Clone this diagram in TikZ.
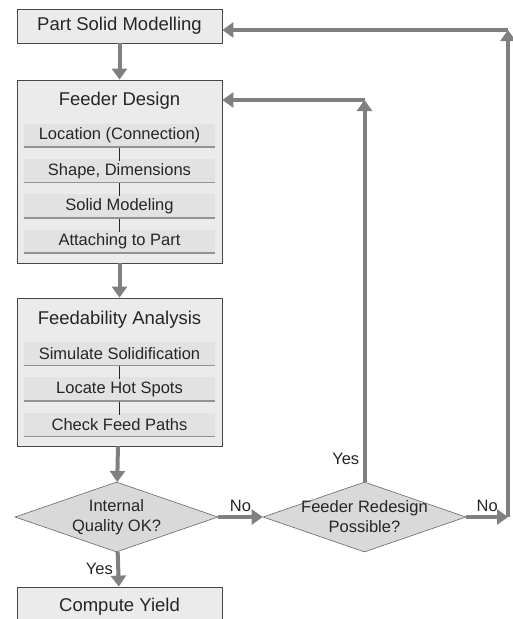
\documentclass[tikz,border=0pt]{standalone}
\usepackage{fontspec}
\setmainfont{Liberation Sans}
\usetikzlibrary{arrows.meta,positioning,shapes.geometric}
\definecolor{boxfill}{HTML}{EBEBEB}
\definecolor{subfill}{HTML}{E2E2E2}
\definecolor{askfill}{HTML}{D9D9D9}
\definecolor{flow}{HTML}{808080}
\definecolor{ink}{HTML}{262626}

\begin{document}
\begin{tikzpicture}[x=1pt,y=-1pt,node distance=11pt,
    big/.style={draw=ink!85,fill=boxfill,line width=0.8pt,minimum width=205pt,
      inner sep=0pt,font=\fontsize{18.5}{22}\selectfont,text=ink},
    title/.style={font=\fontsize{18.5}{22}\selectfont,text=ink},
    sub/.style={fill=subfill,minimum width=191pt,minimum height=24pt,inner sep=0pt,
      font=\fontsize{16.5}{19}\selectfont,text=ink},
    subshade/.style={draw=flow!85,line width=1.5pt},
    ask/.style={diamond,draw=ink!70,fill=askfill,line width=0.6pt,
      minimum width=203pt,minimum height=70pt,inner sep=0pt},
    asktext/.style={font=\fontsize{16.5}{20}\selectfont,text=ink,align=center},
    lbl/.style={font=\fontsize{16.5}{19}\selectfont,text=ink}]
  \useasboundingbox (0,0) rectangle (512,619);

  \begin{scope}
    \node[big,minimum height=34pt] (psm) at (119.5,26) {Part Solid Modelling};
    % feeder design block
    \node[big,minimum height=183pt] (fd) at (119.5,171.5) {};
    \node[title] (fdt) at (119.5,101) {Feeder Design};
    \node[sub] (loc) at (119.5,135.5) {Location (Connection)};
    \node[sub,below=of loc] (shp) {Shape, Dimensions};
    \node[sub,below=of shp] (sm) {Solid Modeling};
    \node[sub,below=of sm] (att) {Attaching to Part};
    % feedability block
    \node[big,minimum height=148pt] (fa) at (119.5,372) {};
    \node[title] (fat) at (119.5,320) {Feedability Analysis};
    \node[sub] (sim) at (119.5,354) {Simulate Solidification};
    \node[sub,below=of sim] (hot) {Locate Hot Spots};
    \node[sub,below=of hot] (chk) {Check Feed Paths};
    % decisions
    \node[ask,label={[asktext]center:Internal\\Quality OK?}] (iq) at (116.5,517) {};
    \node[ask,label={[asktext]center:Feeder Redesign\\Possible?}] (rd) at (364.5,517) {};
    \node[big,minimum height=40pt] (cy) at (119.5,607) {Compute Yield};
  \end{scope}

  % shaded lower edge of the step boxes
  \foreach \n in {loc,shp,sm,att,sim,hot,chk}
    \draw[subshade] ([yshift=0.75pt]\n.south west) -- ([yshift=0.75pt]\n.south east);

  \coordinate (out) at (508,517);
  \coordinate (top) at (508,30);
  \coordinate (back) at (364.5,100);

  \begin{scope}[every edge/.style={draw=ink,line width=1.6pt}]
    \path (loc) edge ([yshift=-2pt]shp.north);
    \path (shp) edge ([yshift=-2pt]sm.north);
    \path (sm) edge ([yshift=-2pt]att.north);
    \path (sim) edge ([yshift=-2pt]hot.north);
    \path (hot) edge ([yshift=-2pt]chk.north);
  \end{scope}
  \begin{scope}
    [every edge/.style={draw=flow,line width=4pt,-{Triangle[length=11pt,width=15pt]}},
    every node/.style={lbl}]
    \path (psm) edge (fd);
    \path (fd) edge (fa);
    \path (fa) edge (iq);
    \path (iq) edge node[left] {Yes} (cy);
    \path (iq) edge node[above] {No} (rd);
    \path (rd) edge node[above] {No} (out);
    \path (out) edge (top);
    \path (top) edge (top -| psm.east);
    \path (rd) edge node[pos=0.06,left] {Yes} (back);
    \path (back) edge (back -| fd.east);
  \end{scope}
\end{tikzpicture}
\end{document}
